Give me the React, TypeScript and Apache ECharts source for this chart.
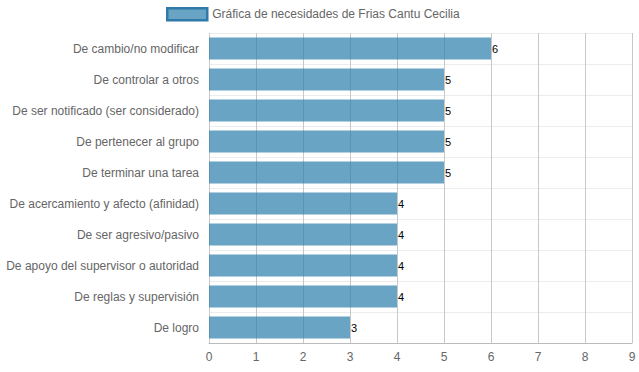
import React, { useEffect, useRef } from "react";
import * as echarts from "echarts";

const categories = [
  "De cambio/no modificar",
  "De controlar a otros",
  "De ser notificado (ser considerado)",
  "De pertenecer al grupo",
  "De terminar una tarea",
  "De acercamiento y afecto (afinidad)",
  "De ser agresivo/pasivo",
  "De apoyo del supervisor o autoridad",
  "De reglas y supervisión",
  "De logro",
];
const values = [6, 5, 5, 5, 5, 4, 4, 4, 4, 3];
const seriesName = "Gráfica de necesidades de Frias Cantu Cecilia";
const xMin = 0;
const xMax = 9;

export default function App() {
  const ref = useRef<HTMLDivElement>(null);
  useEffect(() => {
    if (!ref.current) return;
    const chart = echarts.init(ref.current, null, { renderer: "svg" });
    const font = "'Liberation Sans', Arial, Helvetica, sans-serif";
    chart.setOption({
      animation: false,
      textStyle: { fontFamily: font },
      legend: {
        left: 161,
        top: 2,
        itemWidth: 40,
        itemHeight: 12,
        itemGap: 6,
        icon: "rect",
        textStyle: { color: "#666", fontSize: 12, fontFamily: font },
        itemStyle: { borderColor: "#2f7aa8", borderWidth: 2.5 },
        data: [seriesName],
      },
      grid: { left: 209, right: 7, top: 33, bottom: 29, containLabel: false },
      xAxis: {
        type: "value",
        min: xMin,
        max: xMax,
        interval: 1,
        axisLine: { show: true, lineStyle: { color: "#bbb" } },
        axisTick: { show: false },
        axisLabel: { color: "#666", fontSize: 12, margin: 8, fontFamily: font },
        splitLine: { show: true, lineStyle: { color: "#c8c8c8", width: 1 } },
      },
      yAxis: {
        type: "category",
        inverse: true,
        data: categories,
        axisLine: { show: false },
        axisTick: { show: false },
        axisLabel: { color: "#666", fontSize: 12, margin: 10, fontFamily: font },
        splitLine: { show: true, lineStyle: { color: "#ececec", width: 1 } },
      },
      series: [
        {
          name: seriesName,
          type: "bar",
          data: values,
          barCategoryGap: "29%",
          itemStyle: { color: "rgba(42,126,171,0.7)" },
          label: {
            show: true,
            position: "right",
            distance: 1,
            color: "#000",
            fontSize: 11,
            fontFamily: font,
          },
        },
      ],
    });
    return () => chart.dispose();
  }, []);
  return <div ref={ref} style={{ width: 639, height: 372, position: "absolute", left: 0, top: 0 }} />;
}
